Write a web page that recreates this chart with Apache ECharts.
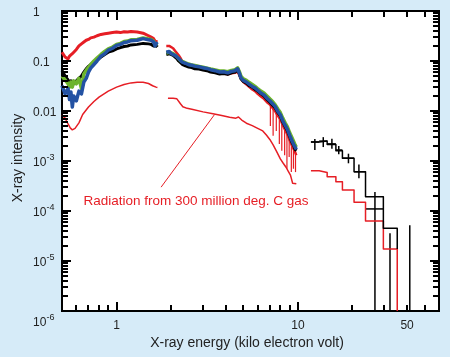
<!DOCTYPE html>
<html><head><meta charset="utf-8">
<script src="https://cdn.jsdelivr.net/npm/echarts@6/dist/echarts.min.js"></script>
<style>html,body{margin:0;padding:0;background:#d6ebf8}#c{width:450px;height:357px}</style>
</head><body><div id="c"></div>
<script>
// ---------- axis ranges & ticks ----------
const X_MIN = 0.5, X_MAX = 60, Y_MIN = 1e-6, Y_MAX = 1;
const xMajorTicks = [1, 10];
const xMinorTicks = [0.6, 0.7, 0.8, 0.9, 2, 3, 4, 5, 6, 7, 8, 9, 20, 30, 40, 50];
const xLabelAt = [1, 10, 40];
const xLabelText = ['1', '10', '50'];
const yMajorTicks = [1e-6, 1e-5, 1e-4, 1e-3, 1e-2, 1e-1, 1];
const yMinorMult = [2, 3, 4, 5, 6, 7, 8, 9];
const yLabelAt = [1, 0.1, 0.01, 1e-3, 1e-4, 1e-5, 1e-6];
const yLabelBase = ['1', '0.1', '0.01', '10', '10', '10', '10'];
const yLabelExp = ['', '', '', '-3', '-4', '-5', '-6'];

// ---------- soft band, segment 1 (0.5 - 1.7 keV) ----------
const seg1E = [0.50,0.52,0.54,0.55,0.56,0.57,0.58,0.60,0.62,0.64,0.66,0.68,0.70,0.72,0.75,0.78,0.82,0.86,0.90,0.95,1.00,1.05,1.10,1.15,1.20,1.30,1.40,1.50,1.55,1.60,1.63,1.66,1.68];
const red1   = [0.15,0.12,0.11,0.125,0.12,0.14,0.15,0.17,0.2,0.22,0.24,0.26,0.27,0.29,0.3,0.32,0.34,0.35,0.36,0.37,0.38,0.37,0.385,0.38,0.39,0.38,0.36,0.32,0.3,0.28,0.25,0.26,0.24];
const black1 = [0.065,0.05,0.042,0.036,0.04,0.032,0.036,0.04,0.045,0.05,0.06,0.07,0.078,0.085,0.095,0.105,0.12,0.135,0.15,0.16,0.175,0.185,0.195,0.2,0.21,0.215,0.225,0.22,0.215,0.2,0.185,0.2,0.19];
const green1 = [0.05,0.042,0.035,0.03,0.038,0.03,0.04,0.035,0.045,0.028,0.055,0.065,0.075,0.085,0.1,0.115,0.135,0.155,0.175,0.19,0.215,0.225,0.245,0.25,0.265,0.27,0.29,0.275,0.27,0.25,0.215,0.235,0.22];
const blue1  = [0.032,0.022,0.028,0.017,0.024,0.012,0.02,0.016,0.025,0.022,0.038,0.045,0.06,0.072,0.085,0.1,0.125,0.14,0.165,0.18,0.205,0.215,0.235,0.24,0.255,0.26,0.28,0.265,0.26,0.24,0.2,0.225,0.215];

// ---------- soft band, segment 2 (1.9 - 10 keV) ----------
const seg2E = [1.88,1.9,1.95,2.0,2.05,2.1,2.15,2.2,2.25,2.3,2.4,2.5,2.6,2.7,2.85,3.0,3.15,3.3,3.5,3.7,3.9,4.1,4.3,4.5,4.65,4.75,4.85,5.0,5.2,5.4,5.6,5.8,6.0,6.25,6.5,6.75,7.0,7.25,7.5,7.75,8.0,8.25,8.5,8.75,9.0,9.25,9.5,9.65,9.8];
const red2   = [0.2,0.21,0.2,0.19,0.18,0.16,0.15,0.13,0.115,0.1,0.092,0.085,0.08,0.077,0.074,0.07,0.067,0.063,0.06,0.057,0.056,0.054,0.057,0.058,0.062,0.052,0.044,0.038,0.034,0.03,0.027,0.025,0.022,0.0195,0.0175,0.015,0.0135,0.0115,0.0098,0.008,0.0068,0.0052,0.0042,0.0034,0.0026,0.0021,0.0017,0.0015,0.0013];
const black2 = [0.135,0.13,0.14,0.128,0.13,0.12,0.112,0.1,0.094,0.086,0.08,0.076,0.074,0.07,0.069,0.066,0.064,0.06,0.058,0.055,0.056,0.054,0.058,0.06,0.066,0.056,0.044,0.039,0.036,0.032,0.03,0.027,0.025,0.022,0.02,0.017,0.015,0.013,0.0115,0.0093,0.008,0.006,0.0049,0.004,0.0031,0.0024,0.002,0.0017,0.0016];
const green2 = [0.145,0.15,0.15,0.145,0.14,0.133,0.122,0.115,0.102,0.097,0.092,0.087,0.083,0.081,0.078,0.075,0.072,0.069,0.066,0.063,0.063,0.061,0.065,0.067,0.073,0.062,0.05,0.044,0.041,0.037,0.034,0.031,0.028,0.025,0.023,0.02,0.0175,0.0155,0.0133,0.011,0.0093,0.0072,0.0058,0.0048,0.0037,0.003,0.0024,0.0021,0.0019];
const blue2  = [0.15,0.14,0.155,0.14,0.145,0.13,0.125,0.112,0.104,0.095,0.09,0.084,0.082,0.079,0.077,0.073,0.071,0.067,0.064,0.06,0.061,0.058,0.062,0.064,0.07,0.058,0.046,0.041,0.038,0.034,0.031,0.029,0.026,0.023,0.021,0.018,0.016,0.014,0.0122,0.0098,0.0084,0.0064,0.0052,0.0043,0.0033,0.0026,0.0021,0.0019,0.0017];
// red error bars reaching below the band (7 - 10 keV)
const redBarE  = [7.05, 7.3, 7.6, 7.9, 8.15, 8.45, 8.7, 8.95, 9.2, 9.45, 9.7];
const redBarLo = [0.005, 0.0032, 0.004, 0.0022, 0.0016, 0.0013, 0.0007, 0.0012, 0.0006, 0.0007, 0.0006];
const redBarHi = [0.015, 0.013, 0.011, 0.009, 0.0075, 0.006, 0.0048, 0.0038, 0.003, 0.0024, 0.002];

// ---------- 300 million deg. C gas model (soft) ----------
const model1E = [0.5,0.52,0.54,0.555,0.57,0.59,0.62,0.65,0.7,0.75,0.8,0.9,1.0,1.1,1.2,1.3,1.4,1.5,1.58,1.65,1.68];
const model1V = [0.0082,0.0072,0.0055,0.0046,0.0042,0.0045,0.0058,0.0085,0.012,0.0155,0.019,0.025,0.03,0.034,0.0365,0.0375,0.0375,0.0355,0.032,0.03,0.0295];
const model2E = [1.92,2.05,2.15,2.25,2.32,2.45,2.6,3.0,3.4,3.8,4.2,4.55,4.7,4.78,4.9,5.2,5.6,6.0,6.4,6.7,7.0,7.3,7.6,8.0,8.3,8.6,8.9,9.1,9.2,9.35,9.5,9.8];
const model2V = [0.018,0.018,0.0175,0.014,0.0122,0.0113,0.0108,0.0096,0.0088,0.0081,0.0075,0.0072,0.0076,0.0079,0.0066,0.0057,0.0051,0.0045,0.004,0.0033,0.0027,0.0021,0.0016,0.0011,0.0009,0.00075,0.0006,0.00052,0.00045,0.00036,0.00036,0.00035];

// ---------- hard band (12 - 50 keV) ----------
const hardEdges   = [11.8, 13.1, 14.5, 16.2, 17.6, 20.4, 23.6, 29.6, 35.3];
const redStepV    = [6.4e-4, 5.9e-4, 4.85e-4, 3.86e-4, 2.63e-4, 1.5e-4, 6.3e-5, 1.74e-5];
const blackStepV  = [2.4e-3, 2.5e-3, 2.15e-3, 1.6e-3, 1.14e-3, 6.1e-4, 1.93e-4, 4.5e-5];
const blackStepEnd = 1.74e-5;
const blackPtE   = [12.4, 13.8, 15.4, 16.8, 19.0, 21.7, 26.6, 32.2, 41.4];
const blackPtV   = [2.4e-3, 2.5e-3, 2.2e-3, 1.66e-3, 1.14e-3, 6.1e-4, 1.1e-4, 3.6e-5, 5.2e-5];
const blackPtLo  = [1.66e-3, 1.9e-3, 1.75e-3, 1.37e-3, 9.0e-4, 4.5e-4, 1e-6, 1e-6, 1e-6];
const blackPtHi  = [2.75e-3, 3.0e-3, 2.8e-3, 2.0e-3, 1.4e-3, 8.5e-4, 2.4e-4, 3.6e-5, 5.2e-5];
const blackPtElo = [11.8, 13.1, 14.5, 16.2, 17.6, 20.4, 23.6, 32.2, 41.4];
const blackPtEhi = [13.1, 14.5, 16.2, 17.6, 20.4, 23.6, 29.6, 32.2, 41.4];

// ---------- annotation ----------
const noteText = 'Radiation from 300 million deg. C gas';
const pointerE = [1.76, 3.47];
const pointerV = [3.0e-4, 0.0085];

// ---------- build ----------
const RED = '#e61e25', GREEN = '#6cb42c', BLUE = '#2352a3', BLACK = '#000';
const FONT = '"Liberation Sans", Arial, Helvetica, sans-serif';
const zip = (xs, ys) => xs.map((x, i) => [x, ys[i]]);
function stepPoints(edges, vals, endV) {
  const pts = [];
  vals.forEach((v, i) => { pts.push([edges[i], v]); pts.push([edges[i + 1], v]); });
  pts.push([edges[edges.length - 1], endV]);
  return pts;
}
function lineSeries(data, color, width, z) {
  return { type: 'line', data, showSymbol: false, symbol: 'none', z: z || 2,
    lineStyle: { color, width, join: 'round' }, itemStyle: { color }, silent: true };
}
function crossRenderer(color, width) {
  return function (params, api) {
    const ch = [];
    const e = api.value(0), v = api.value(1), lo = api.value(2), hi = api.value(3), elo = api.value(4), ehi = api.value(5);
    const pLo = api.coord([e, lo]), pHi = api.coord([e, hi]);
    ch.push({ type: 'line', shape: { x1: pLo[0], y1: pLo[1], x2: pHi[0], y2: pHi[1] }, style: { stroke: color, lineWidth: width } });
    if (ehi > elo) {
      const a = api.coord([elo, v]), b = api.coord([ehi, v]);
      ch.push({ type: 'line', shape: { x1: a[0], y1: a[1], x2: b[0], y2: b[1] }, style: { stroke: color, lineWidth: width } });
    }
    return { type: 'group', children: ch };
  };
}

const crossData = blackPtE.map((e, i) => [e, blackPtV[i], blackPtLo[i], blackPtHi[i], blackPtElo[i], blackPtEhi[i]]);
const redBarData = redBarE.map((e, i) => [e, redBarHi[i], redBarLo[i], redBarHi[i], e, e]);

const chart = echarts.init(document.getElementById('c'), null, { renderer: 'canvas' });
const option = {
  animation: false,
  backgroundColor: '#d6ebf8',
  grid: { left: 62, top: 11, right: 11, bottom: 46, containLabel: false, outerBoundsMode: 'none',
    show: true, backgroundColor: '#fff', borderColor: '#000', borderWidth: 2 },
  xAxis: { type: 'log', logBase: 10, min: X_MIN, max: X_MAX,
    axisLine: { show: false }, axisTick: { show: false }, axisLabel: { show: false }, splitLine: { show: false } },
  yAxis: { type: 'log', logBase: 10, min: Y_MIN, max: Y_MAX,
    axisLine: { show: false }, axisTick: { show: false }, axisLabel: { show: false }, splitLine: { show: false } },
  series: [
    { type: 'custom', renderItem: crossRenderer(RED, 1.2), data: redBarData, z: 1, silent: true },
    lineSeries(zip(seg1E, red1), RED, 3),
    lineSeries(zip(seg2E, red2), RED, 2.5),
    lineSeries(zip(seg1E, black1), BLACK, 3),
    lineSeries(zip(seg2E, black2), BLACK, 3),
    lineSeries(zip(seg1E, green1), GREEN, 3.5),
    lineSeries(zip(seg2E, green2), GREEN, 3.5),
    lineSeries(zip(seg1E, blue1), BLUE, 3.5),
    lineSeries(zip(seg2E, blue2), BLUE, 3.5),
    lineSeries(zip(model1E, model1V), RED, 1.5, 3),
    lineSeries(zip(model2E, model2V), RED, 1.5, 3),
    lineSeries(stepPoints(hardEdges, redStepV, Y_MIN), RED, 1.5, 3),
    lineSeries(stepPoints(hardEdges, blackStepV, blackStepEnd), BLACK, 1.5, 3),
    { type: 'custom', renderItem: crossRenderer(BLACK, 1.5), data: crossData, z: 3, silent: true },
    lineSeries(zip(pointerE, pointerV), RED, 1, 3)
  ]
};
chart.setOption(option);

// ---------- frame ticks, tick labels and titles (placed through the grid's scales) ----------
const px = (x, y) => chart.convertToPixel({ gridIndex: 0 }, [x, y]);
const bl = px(X_MIN, Y_MIN), tr = px(X_MAX, Y_MAX);
const L = bl[0], B = bl[1], R = tr[0], T = tr[1];
const g = [];
const tickV = (x, y, h) => g.push({ type: 'rect', z: 50,
  shape: { x: Math.round(x) - 1, y: Math.min(y, y + h), width: 2, height: Math.abs(h) }, style: { fill: '#000' } });
const tickH = (x, y, w) => g.push({ type: 'rect', z: 50,
  shape: { x: Math.min(x, x + w), y: Math.round(y) - 1, width: Math.abs(w), height: 2 }, style: { fill: '#000' } });
xMajorTicks.forEach(v => { const x = px(v, Y_MIN)[0]; tickV(x, B, -9); tickV(x, T, 9); });
xMinorTicks.forEach(v => { const x = px(v, Y_MIN)[0]; tickV(x, B, -6); tickV(x, T, 6); });
yMajorTicks.forEach(v => { const y = px(X_MIN, v)[1]; tickH(L, y, 9); tickH(R, y, -9); });
yMajorTicks.slice(0, -1).forEach(d => yMinorMult.forEach(m => {
  const y = px(X_MIN, d * m)[1]; tickH(L, y, 6); tickH(R, y, -6);
}));
const txt = (text, x, y, size, align, color, rot) => g.push({ type: 'text', x, y, z: 50, rotation: rot || 0,
  style: { text, fill: color || '#222', font: size + 'px ' + FONT, align, verticalAlign: 'middle', textAlign: align, textVerticalAlign: 'middle' } });
xLabelAt.forEach((v, i) => txt(xLabelText[i], px(v, Y_MIN)[0], B + 15, 12, 'center'));
yLabelAt.forEach((v, i) => {
  const y = px(X_MIN, v)[1] + (v === Y_MIN ? 12 : 2);
  const x = L - 29;
  txt(yLabelBase[i], x, y, 12, 'left');
  if (yLabelExp[i]) txt(yLabelExp[i], x + 13.5, y - 5, 9, 'left');
});
txt(noteText, 196, 201, 13.5, 'center', RED);
txt('X-ray energy (kilo electron volt)', 247, 343, 14, 'center');
txt('X-ray intensity', 18, 158, 14, 'center', '#222', Math.PI / 2);
chart.setOption({ graphic: g });
</script>
</body></html>
